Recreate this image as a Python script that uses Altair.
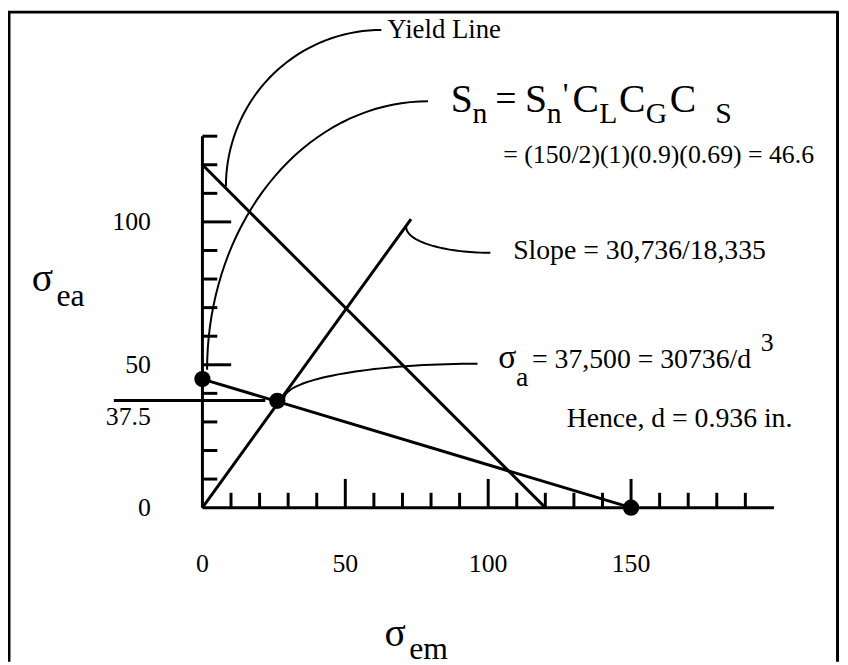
import altair as alt
import pandas as pd
import numpy as np

# ---------------- data ----------------
x_minor_ticks = [10, 20, 30, 40, 60, 70, 80, 90, 110, 120, 130, 140, 160, 170, 180, 190]
x_major_ticks = [50, 100, 150]
y_minor_ticks = [10, 20, 30, 40, 60, 70, 80, 90, 110, 120, 130]
y_major_ticks = [50, 100]
x_tick_labels = [0, 50, 100, 150]
y_tick_labels = [0, 50, 100]
y_special_label = 37.5
x_axis_max = 200
y_axis_max = 130

# lines: yield line, load line, Goodman line, sigma_a reference
yield_x = [0, 120]
yield_y = [120, 0]
load_x = [0, 73]
load_y = [0, 101]
goodman_x = [0, 150]
goodman_y = [45, 0]
sa_ref_x = [-31, 22]
sa_ref_y = [37.5, 37.5]

# highlighted points
pts_x = [0, 26.2, 150]
pts_y = [45, 37.4, 0]

# ---------------- geometry ----------------
W, H = 840, 657
OX, OY, PPU = 196.3, 501.3, 2.885  # svg position of data origin, pixels per unit
x_dom = [-OX / PPU, (W - OX) / PPU]
y_dom = [(OY - H) / PPU, OY / PPU]
xs = alt.Scale(domain=x_dom, nice=False, zero=False)
ys = alt.Scale(domain=y_dom, nice=False, zero=False)
FONT = "Liberation Serif"


def d(px, py):
    """page pixel -> data units"""
    return ((px - 8 - OX) / PPU, (OY - (py - 8)) / PPU)


X = lambda f: alt.X(f, scale=xs, axis=None)
Y = lambda f: alt.Y(f, scale=ys, axis=None)

# ---------------- segments ----------------
seg = pd.DataFrame({
    "x1": [0, 0, yield_x[0], load_x[0], goodman_x[0], sa_ref_x[0]],
    "y1": [0, 0, yield_y[0], load_y[0], goodman_y[0], sa_ref_y[0]],
    "x2": [x_axis_max, 0, yield_x[1], load_x[1], goodman_x[1], sa_ref_x[1]],
    "y2": [0, y_axis_max, yield_y[1], load_y[1], goodman_y[1], sa_ref_y[1]],
})
segs = alt.Chart(seg).mark_rule(color="black", strokeWidth=3).encode(
    x=X("x1:Q"), y=Y("y1:Q"), x2="x2:Q", y2="y2:Q")

MINOR, MAJOR = 15 / PPU, 29 / PPU
xt = pd.DataFrame({"v": x_minor_ticks + x_major_ticks,
                   "len": [MINOR] * len(x_minor_ticks) + [MAJOR] * len(x_major_ticks)})
xt["z"] = 0.0
xticks = alt.Chart(xt).mark_rule(color="black", strokeWidth=3).encode(
    x=X("v:Q"), y=Y("z:Q"), y2="len:Q")
yt = pd.DataFrame({"v": y_minor_ticks + y_major_ticks,
                   "len": [MINOR] * len(y_minor_ticks) + [MAJOR] * len(y_major_ticks)})
yt["z"] = 0.0
yticks = alt.Chart(yt).mark_rule(color="black", strokeWidth=3).encode(
    y=Y("v:Q"), x=X("z:Q"), x2="len:Q")

xl = pd.DataFrame({"v": x_tick_labels, "t": [str(v) for v in x_tick_labels]})
xl["z"] = 0.0
xlabels = alt.Chart(xl).mark_text(font=FONT, fontSize=26, dy=57, align="center",
                                  baseline="middle", color="black").encode(
    x=X("v:Q"), y=Y("z:Q"), text="t:N")
yl = pd.DataFrame({"v": y_tick_labels, "t": [str(v) for v in y_tick_labels]})
yl["z"] = 0.0
ylabels = alt.Chart(yl).mark_text(font=FONT, fontSize=26, dx=-52, align="right",
                                  baseline="middle", color="black").encode(
    x=X("z:Q"), y=Y("v:Q"), text="t:N")
yl2 = pd.DataFrame({"v": [y_special_label], "t": [str(y_special_label)]})
yl2["z"] = 0.0
ylabel_special = alt.Chart(yl2).mark_text(font=FONT, fontSize=26, dx=-52, dy=17, align="right",
                                          baseline="middle", color="black").encode(
    x=X("z:Q"), y=Y("v:Q"), text="t:N")

dots = alt.Chart(pd.DataFrame({"x": pts_x, "y": pts_y})).mark_circle(
    size=270, color="black", opacity=1).encode(x=X("x:Q"), y=Y("y:Q"))

# ---------------- callout curves (quarter ellipses) ----------------
callouts = [  # start (vertical tangent), end (horizontal tangent), page px
    ((228, 185), (385, 27)),
    ((209, 370), (432, 99)),
    ((410, 226), (495, 252)),
    ((287, 399), (482, 364)),
]
rows = []
t = np.linspace(0, np.pi / 2, 40)
for k, (s, e) in enumerate(callouts):
    sx, sy = d(*s)
    ex, ey = d(*e)
    for i, tt in enumerate(t):
        rows.append({"c": k, "i": i, "x": ex - (ex - sx) * np.cos(tt), "y": sy + (ey - sy) * np.sin(tt)})
curves = alt.Chart(pd.DataFrame(rows)).mark_line(color="black", strokeWidth=2).encode(
    x=X("x:Q"), y=Y("y:Q"), detail="c:N", order="i:Q")

# ---------------- annotation text ----------------
ann = [  # text, page x (left), page y (middle), size
    ("Yield Line", 391, 27, 27),
    ("S", 455, 98, 40), ("n", 477, 112, 30), ("=", 500, 98, 38), ("S", 530, 98, 40),
    ("n", 552, 112, 30), ("'", 568, 93, 32), ("C", 578, 98, 40), ("L", 605, 112, 30),
    ("C", 625, 98, 40), ("G", 652, 112, 30), ("C", 676, 98, 40), ("S", 722, 112, 30),
    ("= (150/2)(1)(0.9)(0.69) = 46.6", 508, 153, 26),
    ("Slope = 30,736/18,335", 518, 250, 28),
    ("σ", 503, 358, 34), ("a", 521, 378, 28), ("= 37,500 = 30736/d", 537, 360, 28),
    ("3", 768, 343, 26),
    ("Hence, d = 0.936 in.", 572, 420, 28),
    ("σ", 32, 279, 40), ("ea", 57, 296, 32),
    ("σ", 388, 637, 40), ("em", 413, 652, 32),
]
ann_df = pd.DataFrame([{"t": a, "x": d(px, py)[0], "y": d(px, py)[1], "s": s} for a, px, py, s in ann])
texts = alt.Chart(ann_df).mark_text(font=FONT, align="left", baseline="middle", color="black").encode(
    x=X("x:Q"), y=Y("y:Q"), text="t:N", size=alt.Size("s:Q", scale=None))

# ---------------- frame ----------------
frame_top = alt.Chart(pd.DataFrame({"a": [0]})).mark_rule(color="black", strokeWidth=3).encode(
    x=alt.value(0), x2=alt.value(838), y=alt.value(1))
frame_left = alt.Chart(pd.DataFrame({"a": [0]})).mark_rule(color="black", strokeWidth=3).encode(
    x=alt.value(1), y=alt.value(0), y2=alt.value(H))
frame_right = alt.Chart(pd.DataFrame({"a": [0]})).mark_rule(color="black", strokeWidth=3).encode(
    x=alt.value(837.5), y=alt.value(0), y2=alt.value(H))

chart = alt.layer(segs, xticks, yticks, curves, dots, xlabels, ylabels, ylabel_special, texts,
                  frame_top, frame_left, frame_right).properties(
    width=W, height=H, padding=0, autosize=alt.AutoSizeParams(type="none"),
    background="white").configure_view(stroke=None)

chart.save("out.html", embed_options={"renderer": "svg", "actions": False})
